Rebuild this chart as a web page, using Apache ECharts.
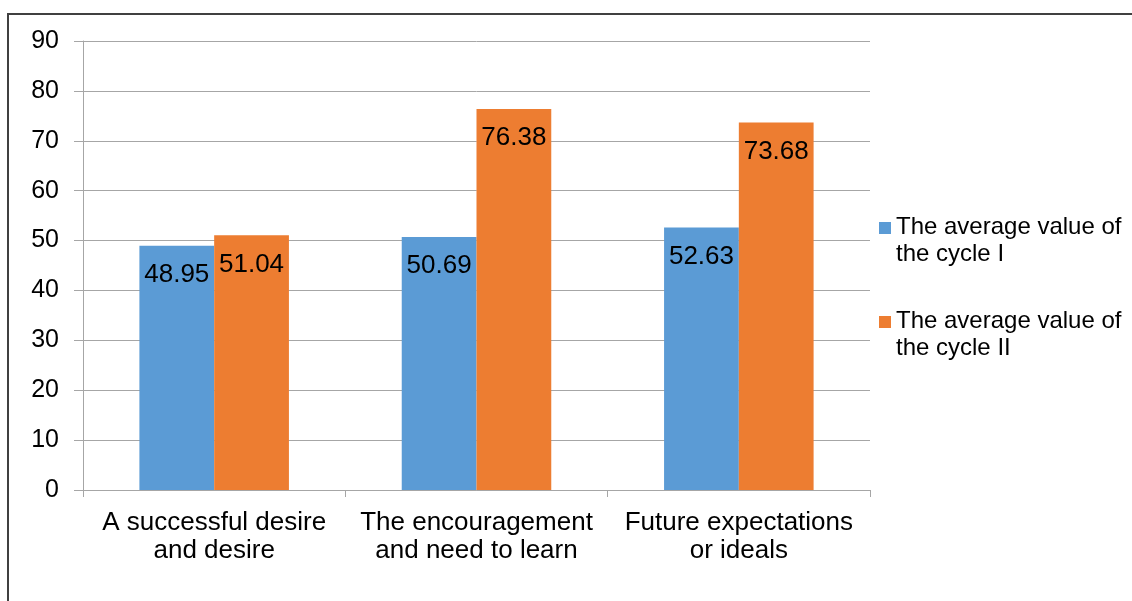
<!DOCTYPE html>
<html>
<head>
<meta charset="utf-8">
<script src="https://cdn.jsdelivr.net/npm/echarts@6/dist/echarts.min.js"></script>
<style>
html,body{margin:0;padding:0;background:#fff;}
#chart{width:1132px;height:601px;}
</style>
</head>
<body>
<div id="chart"></div>
<script>
const categories = ["A successful desire\nand desire", "The encouragement\nand need to learn", "Future expectations\nor ideals"];
const seriesNames = ["The average value of\nthe cycle I", "The average value of\nthe cycle II"];
const cycle1 = [48.95, 50.69, 52.63];
const cycle2 = [51.04, 76.38, 73.68];
const colors = ["#5b9bd5", "#ed7d31"];

const FONT = "Liberation Sans, Arial, sans-serif";
const chart = echarts.init(document.getElementById('chart'), null, {renderer: 'canvas'});

const legendIcon = 'path://M0,8L12,8L12,20L0,20Z M0,0L0.01,0 M0,54L0.01,54';

const labelCfg = {
  show: true,
  position: 'insideTop',
  distance: 16,
  color: '#000',
  fontSize: 26,
  fontFamily: FONT,
  formatter: p => p.value.toFixed(2)
};

chart.setOption({
  animation: false,
  backgroundColor: '#fff',
  textStyle: {fontFamily: FONT},
  graphic: [{
    type: 'rect',
    shape: {x: 8, y: 14, width: 3000, height: 3000},
    style: {fill: 'none', stroke: '#404040', lineWidth: 2},
    silent: true,
    z: 100
  }],
  grid: {left: 83, right: 262, top: 41, bottom: 111, containLabel: false},
  legend: {
    orient: 'vertical',
    left: 879,
    top: 214,
    padding: 0,
    itemWidth: 12,
    itemHeight: 54,
    itemGap: 40,
    icon: legendIcon,
    textStyle: {fontSize: 24, lineHeight: 27, color: '#000', fontFamily: FONT},
    data: seriesNames
  },
  xAxis: {
    type: 'category',
    data: categories,
    axisLine: {show: true, lineStyle: {color: '#a6a6a6', width: 1}},
    axisTick: {show: true, length: 7, alignWithLabel: false, lineStyle: {color: '#a6a6a6'}},
    axisLabel: {interval: 0, fontSize: 26, lineHeight: 28, color: '#000', margin: 19, fontFamily: FONT},
    splitLine: {show: false}
  },
  yAxis: {
    type: 'value',
    min: 0,
    max: 90,
    interval: 10,
    axisLine: {show: true, lineStyle: {color: '#a6a6a6', width: 1}},
    axisTick: {show: true, length: 9, lineStyle: {color: '#a6a6a6'}},
    axisLabel: {fontSize: 25, color: '#000', margin: 24, fontFamily: FONT},
    splitLine: {show: true, lineStyle: {color: '#a6a6a6', width: 1}}
  },
  series: [
    {
      name: seriesNames[0],
      type: 'bar',
      data: cycle1,
      itemStyle: {color: colors[0]},
      barGap: '0%',
      barCategoryGap: '43%',
      label: labelCfg
    },
    {
      name: seriesNames[1],
      type: 'bar',
      data: cycle2,
      itemStyle: {color: colors[1]},
      barGap: '0%',
      barCategoryGap: '43%',
      label: labelCfg
    }
  ]
});
</script>
</body>
</html>
